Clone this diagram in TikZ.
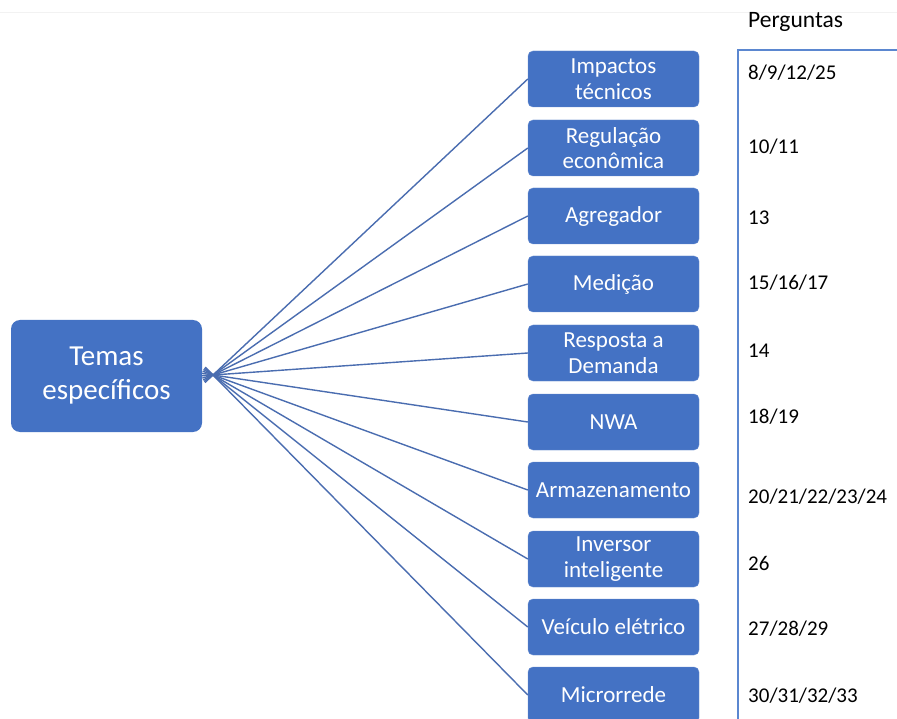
\documentclass[tikz,border=0pt]{standalone}
\usepackage{fontspec}
\setmainfont{Carlito}
\usetikzlibrary{calc}
\definecolor{boxblue}{HTML}{4472C4}
\definecolor{linkblue}{HTML}{4A6DB0}
\definecolor{framblue}{HTML}{5B87D0}

\begin{document}
\begin{tikzpicture}[x=1pt,y=-1pt,
  tema/.style={draw=boxblue!80!white, fill=boxblue, text=white, rounded corners=5pt,
    minimum width=171pt, minimum height=56pt, align=center, inner sep=1pt,
    font=\fontsize{23}{25.5}\selectfont},
  link/.style={linkblue, line width=1.4pt},
  num/.style={anchor=west, inner sep=0pt, font=\fontsize{21}{24}\selectfont}]

  \useasboundingbox (0,0) rectangle (897,719);
  \fill[white] (0,0) rectangle (897,719);
  \draw[black!5, line width=1pt] (0,13)--(897,13);

  \node[fill=boxblue, text=white, rounded corners=9pt, minimum width=191pt, minimum height=112pt,
    align=center, font=\fontsize{29}{34}\selectfont] (temas) at (106.5, 376) {Temas\\específicos};
  \coordinate (hub) at (213, 375);

 \node[tema] (impactos)  at (613.5, 79)  {Impactos\\técnicos};
 \node[tema] (regulacao) at (613.5, 148) {Regulação\\econômica};
 \node[tema] (agregador) at (613.5, 216) {Agregador};
 \node[tema] (medicao)   at (613.5, 284) {Medição};
 \node[tema] (resposta)  at (613.5, 353) {Resposta a\\Demanda};
 \node[tema] (nwa)       at (613.5, 422) {NWA};
 \node[tema] (armaz)     at (613.5, 490) {Armazenamento};
 \node[tema] (inversor)  at (613.5, 559) {Inversor\\inteligente};
 \node[tema] (veiculo)   at (613.5, 627) {Veículo elétrico};
 \node[tema] (micro)     at (613.5, 695) {Microrrede};

 \draw[link] ($(hub)!-11pt!(impactos.west)$)--(impactos.west);
 \draw[link] ($(hub)!-11pt!(regulacao.west)$)--(regulacao.west);
 \draw[link] ($(hub)!-11pt!(agregador.west)$)--(agregador.west);
 \draw[link] ($(hub)!-11pt!(medicao.west)$)--(medicao.west);
 \draw[link] ($(hub)!-11pt!(resposta.west)$)--(resposta.west);
 \draw[link] ($(hub)!-11pt!(nwa.west)$)--(nwa.west);
 \draw[link] ($(hub)!-11pt!(armaz.west)$)--(armaz.west);
 \draw[link] ($(hub)!-11pt!(inversor.west)$)--(inversor.west);
 \draw[link] ($(hub)!-11pt!(veiculo.west)$)--(veiculo.west);
 \draw[link] ($(hub)!-11pt!(micro.west)$)--(micro.west);

  % coluna de perguntas
  \draw[framblue, line width=1.4pt] (897,50)--(738,50)--(738,719);
  \node[num, font=\fontsize{23.5}{26}\selectfont] (perg) at (748, 22) {Perguntas};
  \node[num] (q1)  at (748, 73)  {8/9/12/25};
  \node[num] (q2)  at (748, 147) {10/11};
  \node[num] (q3)  at (748, 218) {13};
  \node[num] (q4)  at (748, 283) {15/16/17};
  \node[num] (q5)  at (748, 351) {14};
  \node[num] (q6)  at (748, 417) {18/19};
  \node[num] (q7)  at (748, 497) {20/21/22/23/24};
  \node[num] (q8)  at (748, 563) {26};
  \node[num] (q9)  at (748, 629) {27/28/29};
  \node[num] (q10) at (748, 696) {30/31/32/33};

 \end{tikzpicture}
\end{document}
